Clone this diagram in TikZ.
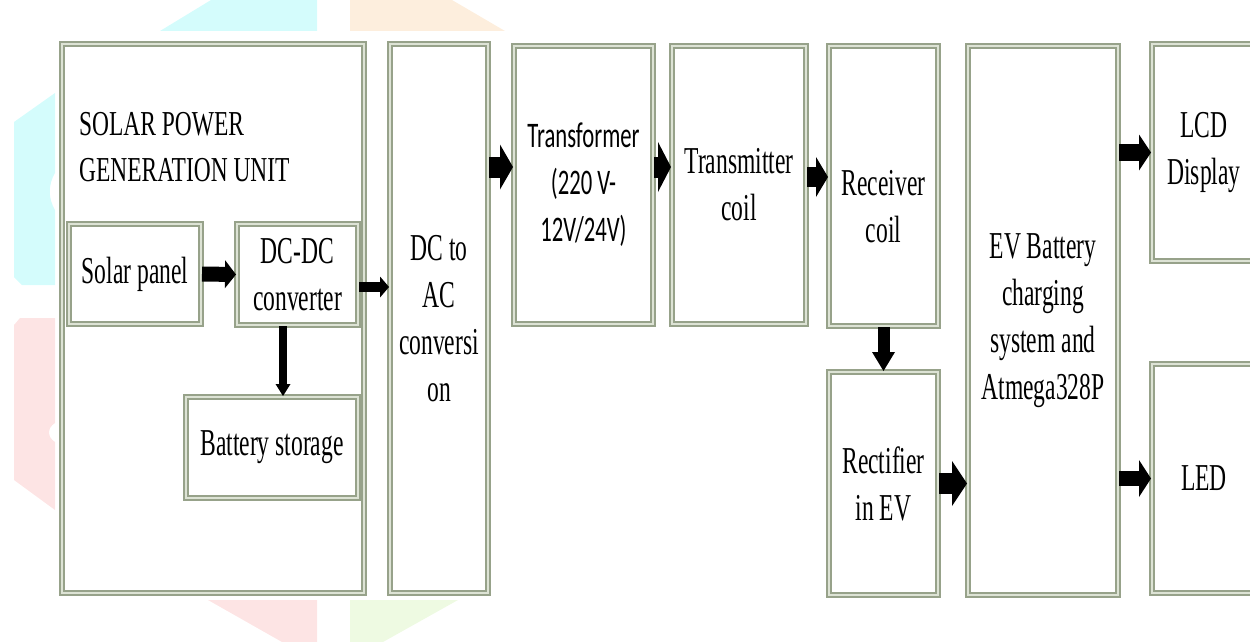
\documentclass[tikz,border=0pt]{standalone}
\usepackage{fontspec}
\setmainfont{Liberation Serif}[FakeStretch=0.62]
\newfontfamily\titlefont{Liberation Serif}[FakeStretch=0.67]
\newfontfamily\calibrifont{Carlito}[FakeStretch=0.63]
\usetikzlibrary{arrows.meta}

\definecolor{boxedge}{HTML}{97A28A}
\definecolor{boxinner}{HTML}{DDE3D5}
\definecolor{wmcyan}{HTML}{D4FCFC}
\definecolor{wmorange}{HTML}{FDEEDD}
\definecolor{wmred}{HTML}{FDE4E4}
\definecolor{wmgreen}{HTML}{EEFAE2}

\begin{document}
\begin{tikzpicture}[
  x=1pt, y=-1pt,
  every node/.style={font=\fontsize{38}{47}\selectfont, inner sep=0pt},
  box/.style={draw=boxedge, line width=2pt, double=boxinner, double distance=1.2pt, align=center},
  barrow/.style n args={3}{line width=#1pt, -{Triangle[length=#3pt, width=#2pt, line width=0pt]}}
]
  \useasboundingbox (0,0) rectangle (1250,642);
  % watermark
  \fill[wmcyan] (160,31) -- (211,0) -- (317,0) -- (317,31) -- cycle;
  \fill[wmorange] (350,0) -- (452,0) -- (505,31) -- (350,31) -- cycle;
  \fill[wmcyan] (14,122) -- (55,93) -- (55,173) .. controls (48,185) and (48,198) .. (55,210)
    -- (55,285) -- (22,285) -- (14,277) -- cycle;
  \fill[wmred] (14,325) -- (20,318) -- (55,318) -- (55,423) .. controls (47,428) and (47,437) .. (55,442)
    -- (55,510) -- (14,480) -- cycle;
  \fill[wmred] (208,600) -- (317,600) -- (317,642) -- (282,642) -- cycle;
  \fill[wmgreen] (350,600) -- (458,600) -- (383,642) -- (350,642) -- cycle;

  % solar unit
  \node[box, minimum width=302pt, minimum height=549pt] (solar) at (213,318.5) {};
  \node[anchor=west, align=left, font=\titlefont\fontsize{35}{46}\selectfont] (solartitle) at (79,147.5) {SOLAR POWER\\GENERATION UNIT};
  \node[box, minimum width=132pt, minimum height=100pt] (panel) at (135,274) {Solar panel};
  \node[box, minimum width=121pt, minimum height=101pt] (dcdc) at (297.5,274.5) {DC-DC\\converter};
  \node[box, minimum width=172pt, minimum height=101pt] (battery) at (272,447.5) {Battery storage};

  % conversion chain
  \node[box, minimum width=98pt, minimum height=549pt] (dcac) at (439,318.5) {DC to\\AC\\conversi\\on};
  \node[box, minimum width=139pt, minimum height=278pt, font=\calibrifont\fontsize{36}{47}\selectfont] (transformer) at (583.5,185) {Transformer\\(220 V-\\12V/24V)};
  \node[box, minimum width=134pt, minimum height=278pt] (transmitter) at (739,185) {Transmitter\\coil};
  \node[box, minimum width=109pt, minimum height=280pt,
    label={[align=center, yshift=-21pt]center:Receiver\\coil}] (receiver) at (883.5,186) {};
  \node[box, minimum width=109pt, minimum height=223pt] (rectifier) at (883.5,483.5) {Rectifier\\in EV};
  \node[box, minimum width=150pt, minimum height=549pt] (ev) at (1043,320.5) {EV Battery\\charging\\system and\\Atmega328P};
  \node[box, minimum width=104pt, minimum height=217pt] (lcd) at (1204,152.5) {LCD\\Display};
  \node[box, minimum width=104pt, minimum height=229pt] (led) at (1204,478.5) {LED};

  % arrows
  \draw[barrow={15}{28}{11}] (panel.east) -- (dcdc.west);
  \draw[barrow={10}{21}{9}] ([yshift=-12.5pt]dcdc.east) -- ([yshift=-12.5pt]dcdc.east -| dcac.west);
  \draw[barrow={8}{15}{12}] ([xshift=-14.5pt]dcdc.south) -- ([xshift=-14.5pt]dcdc.south |- battery.north);
  \draw[barrow={21}{45}{13}] ([yshift=18pt]transformer.west -| dcac.east) -- ([yshift=18pt]transformer.west);
  \draw[barrow={21}{50}{13}] ([yshift=18pt]transformer.east) -- ([yshift=18pt]transformer.east -| transmitter.west);
  \draw[barrow={20}{40}{12}] ([yshift=8pt]transmitter.east) -- ([yshift=8pt]transmitter.east -| receiver.west);
  \draw[barrow={12}{23}{19}] (receiver.south) -- (rectifier.north);
  \draw[barrow={21}{45}{15}] (rectifier.east) -- (rectifier.east -| ev.west);
  \draw[barrow={17}{36}{12}] (lcd.west -| ev.east) -- (lcd.west);
  \draw[barrow={15}{37}{12}] (led.west -| ev.east) -- (led.west);
\end{tikzpicture}
\end{document}
